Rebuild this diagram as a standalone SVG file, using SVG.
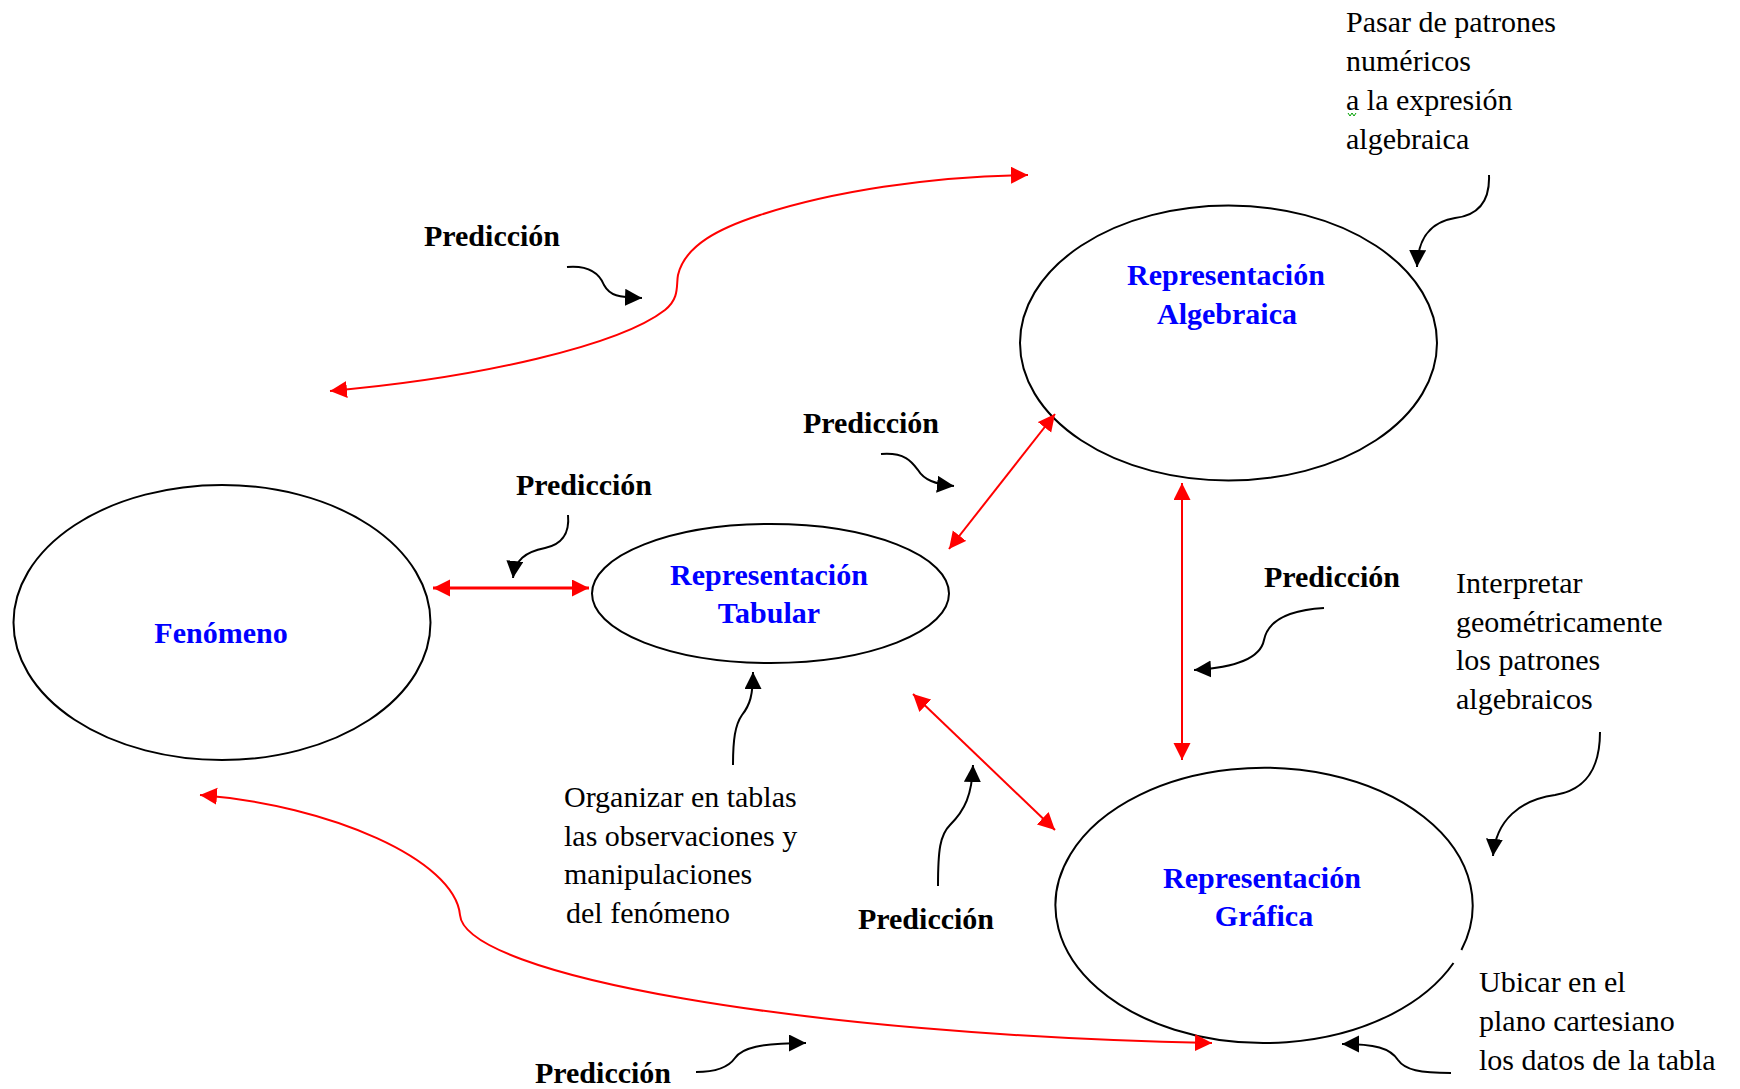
<svg xmlns="http://www.w3.org/2000/svg" width="1740" height="1089" viewBox="0 0 1740 1089">
<style>
.ell{fill:none;stroke:#000;stroke-width:2}
.title{font-family:"Liberation Serif","Times New Roman",serif;font-size:30px;font-weight:bold;fill:#0000ff;text-anchor:middle}
.pred{font-family:"Liberation Serif","Times New Roman",serif;font-size:30px;font-weight:bold;fill:#000;text-anchor:middle}
.note{font-family:"Liberation Serif","Times New Roman",serif;font-size:30px;fill:#000}
.red{fill:none;stroke:#ff0000;stroke-width:2}
.blk{fill:none;stroke:#000;stroke-width:2}
</style>
<defs>
<marker id="ra" markerUnits="userSpaceOnUse" markerWidth="19" markerHeight="18" refX="17" refY="8.5" orient="auto-start-reverse"><path d="M0,0 L17,8.5 L0,17 z" fill="#ff0000"/></marker>
<marker id="ba" markerUnits="userSpaceOnUse" markerWidth="19" markerHeight="18" refX="17" refY="8.5" orient="auto"><path d="M0,0 L17,8.5 L0,17 z" fill="#000"/></marker>
</defs>
<rect width="1740" height="1089" fill="#fff"/>

<g id="fenomeno">
<ellipse class="ell" cx="222" cy="622.5" rx="208.5" ry="137.5"/>
<text class="title" x="221" y="643">Fenómeno</text>
</g>
<g id="tabular">
<ellipse class="ell" cx="770.5" cy="593.5" rx="178.5" ry="69.5"/>
<text class="title" x="769" y="585">Representación</text>
<text class="title" x="769" y="623">Tabular</text>
</g>
<g id="algebraica">
<ellipse class="ell" cx="1228.5" cy="343" rx="208.5" ry="137.5"/>
<text class="title" x="1226" y="285">Representación</text>
<text class="title" x="1227" y="324">Algebraica</text>
</g>
<g id="grafica">
<path class="ell" d="M1453.5,963 A208.6,137.6 0 1 1 1461.4,950"/>
<text class="title" x="1262" y="888">Representación</text>
<text class="title" x="1264" y="926">Gráfica</text>
</g>

<g id="connectors">
<path class="red" style="stroke-width:3" d="M433,588 L589,588" marker-start="url(#ra)" marker-end="url(#ra)"/>
<path class="red" d="M949,549 L1055,414" marker-start="url(#ra)" marker-end="url(#ra)"/>
<path class="red" d="M1182,483 L1182,760" marker-start="url(#ra)" marker-end="url(#ra)"/>
<path class="red" d="M913,694 L1055,830" marker-start="url(#ra)" marker-end="url(#ra)"/>
<path class="red" d="M330,391 C480,378 620,345 665,310 C680,298 676,285 678,275 C685,245 720,228 760,215 C830,192 930,176 1028,175" marker-start="url(#ra)" marker-end="url(#ra)"/>
<path class="red" d="M200,795 C330,805 455,860 460,915 C465,975 800,1035 1212,1043" marker-start="url(#ra)" marker-end="url(#ra)"/>

<path class="blk" d="M567,267 C590,265 600,275 604,285 C610,296 618,297 642,298" marker-end="url(#ba)"/>
<path class="blk" d="M881,454 C905,452 912,462 918,470 C924,480 935,484 954,486" marker-end="url(#ba)"/>
<path class="blk" d="M568,515 C570,535 560,545 545,548 C525,552 515,560 513,578" marker-end="url(#ba)"/>
<path class="blk" d="M1324,608 C1290,610 1268,620 1264,640 C1260,660 1230,668 1194,670" marker-end="url(#ba)"/>
<path class="blk" d="M1489,175 C1490,200 1480,215 1455,218 C1430,222 1418,238 1417,267" marker-end="url(#ba)"/>
<path class="blk" d="M1600,732 C1600,770 1585,790 1555,795 C1520,800 1496,820 1493,856" marker-end="url(#ba)"/>
<path class="blk" d="M1451,1073 C1420,1073 1405,1070 1398,1060 C1390,1048 1375,1044 1342,1044" marker-end="url(#ba)"/>
<path class="blk" d="M733,765 C733,740 735,725 742,715 C750,705 753,695 753,672" marker-end="url(#ba)"/>
<path class="blk" d="M938,886 C938,850 940,835 950,825 C965,810 972,795 973,765" marker-end="url(#ba)"/>
<path class="blk" d="M696,1072 C715,1072 728,1068 735,1058 C742,1048 760,1043 806,1043" marker-end="url(#ba)"/>
</g>

<g id="labels">
<text class="pred" x="492" y="246">Predicción</text>
<text class="pred" x="871" y="433">Predicción</text>
<text class="pred" x="584" y="495">Predicción</text>
<text class="pred" x="1332" y="587">Predicción</text>
<text class="pred" x="926" y="929">Predicción</text>
<text class="pred" x="603" y="1083">Predicción</text>
</g>

<g id="notes">
<g id="note-algebraica">
<text class="note" x="1346" y="32">Pasar de patrones</text>
<text class="note" x="1346" y="71">numéricos</text>
<text class="note" x="1346" y="110">a la expresión</text>
<text class="note" x="1346" y="149">algebraica</text>
<polyline points="1348,113 1350,116 1352,113 1354,116 1356,113" fill="none" stroke="#00a000" stroke-width="1"/>
</g>
<g id="note-interpretar">
<text class="note" x="1456" y="593">Interpretar</text>
<text class="note" x="1456" y="632">geométricamente</text>
<text class="note" x="1456" y="670">los patrones</text>
<text class="note" x="1456" y="709">algebraicos</text>
</g>
<g id="note-ubicar">
<text class="note" x="1479" y="992">Ubicar en el</text>
<text class="note" x="1479" y="1031">plano cartesiano</text>
<text class="note" x="1479" y="1070">los datos de la tabla</text>
</g>
<g id="note-organizar">
<text class="note" x="564" y="807">Organizar en tablas</text>
<text class="note" x="564" y="846">las observaciones y</text>
<text class="note" x="564" y="884">manipulaciones</text>
<text class="note" x="566" y="923">del fenómeno</text>
</g>
</g>
</svg>
